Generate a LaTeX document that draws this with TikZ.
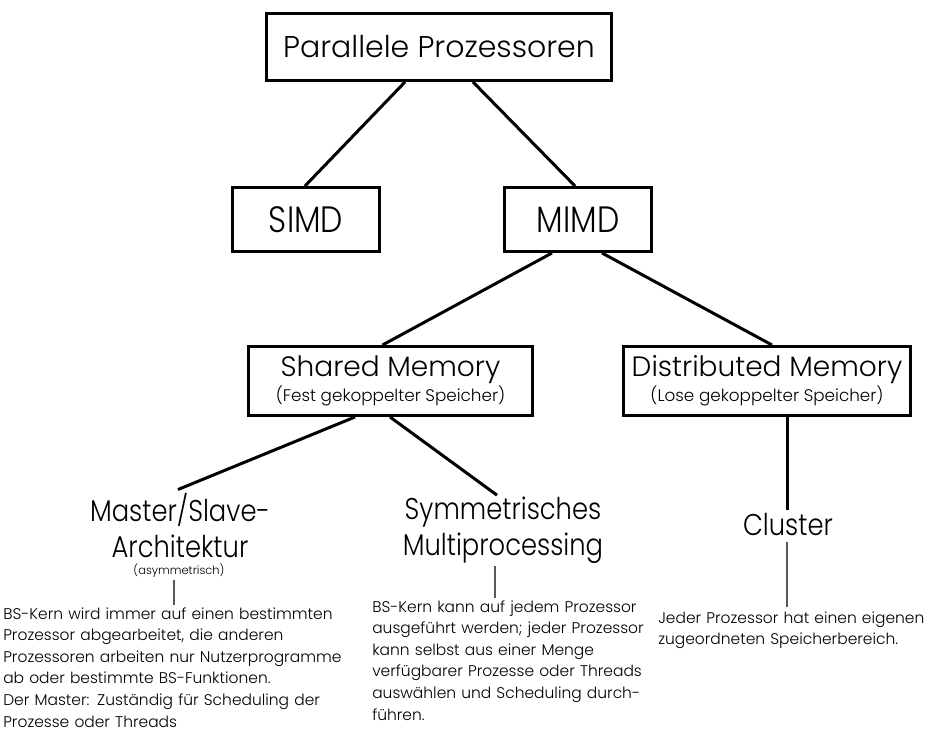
\documentclass[tikz,border=0pt]{standalone}
\usepackage{fontspec}
\setmainfont{Poppins Light}
\newfontfamily\fnarrow[FakeStretch=0.86]{Poppins Light}
\usetikzlibrary{calc}
\newcommand\fTitle{\fontsize{22.5}{27}\selectfont}
\newcommand\fSimd{\fnarrow\fontsize{27.5}{30}\selectfont}
\newcommand\fMem{\fontsize{21}{18.5}\selectfont}
\newcommand\fSub{\fontsize{12.6}{18.5}\selectfont}
\newcommand\fLbl{\fnarrow\fontsize{22.5}{27}\selectfont}
\newcommand\fNote{\fontsize{8.6}{10}\selectfont}
\newcommand\fDesc{\fontsize{11.6}{16.2}\selectfont}
\begin{document}
\begin{tikzpicture}[x=0.75pt,y=-0.75pt,
  box/.style={draw, line width=2.25pt, inner sep=0pt},
  conn/.style={line width=2.25pt},
  thinline/.style={line width=0.8pt, black!65},
  lbl/.style={inner sep=0pt, align=center, anchor=base},
  desc/.style={inner sep=0pt, anchor=base west, text width=400pt, align=left, font=\fDesc}]
\useasboundingbox (0,0) rectangle (932,734);
% boxes
\node[box, minimum width=258.75pt, minimum height=50.25pt, font=\fTitle] (top) at (439,47) {Parallele Prozessoren};
\node[box, minimum width=110.25pt, minimum height=48pt, font=\fSimd] (simd) at (306,219.5) {SIMD};
\node[box, minimum width=110.25pt, minimum height=48pt, font=\fSimd] (mimd) at (578,219.5) {MIMD};
\node[box, minimum width=213pt, minimum height=51.75pt, align=center, font=\fMem] (shared) at (390.5,381) {Shared Memory\\{\fSub (Fest gekoppelter Speicher)}};
\node[box, minimum width=215.25pt, minimum height=51.75pt, align=center, font=\fMem] (dist) at (767,381) {Distributed Memory\\{\fSub (Lose gekoppelter Speicher)}};
% labels (base anchor = last line)
\node[lbl, font=\fLbl] (ms) at (180,557) {Master/Slave-\\Architektur};
\node[lbl, font=\fNote] (msnote) at (179,574) {(asymmetrisch)};
\node[lbl, font=\fLbl] (sy) at (503,555) {Symmetrisches\\Multiprocessing};
\node[lbl, font=\fLbl] (cl) at (788,535) {Cluster};
% descriptions
\node[desc] (msd) at (3,619) {BS-Kern wird immer auf einen bestimmten\\Prozessor abgearbeitet, die anderen\\Prozessoren arbeiten nur Nutzerprogramme\\ab oder bestimmte BS-Funktionen.\\Der Master: Zuständig für Scheduling der\\Prozesse oder Threads};
\node[desc] (syd) at (372,612) {BS-Kern kann auf jedem Prozessor\\ausgeführt werden; jeder Prozessor\\kann selbst aus einer Menge\\verfügbarer Prozesse oder Threads\\auswählen und Scheduling durch-\\führen.};
\node[desc] (cld) at (658,623) {Jeder Prozessor hat einen eigenen\\zugeordneten Speicherbereich.};
% columns for thin lines
\coordinate (msx) at (174,0);
\coordinate (syx) at (495,0);
\coordinate (clx) at (787,0);
% connectors
\draw[conn] ($(top.south)+(-34,0)$) -- ($(simd.north)+(-1,0)$);
\draw[conn] ($(top.south)+(34,0)$) -- ($(mimd.north)+(-3,0)$);
\draw[conn] ($(mimd.south)+(-26,0)$) -- ($(shared.north)+(-8,0)$);
\draw[conn] ($(mimd.south)+(24,0)$) -- ($(dist.north)+(5,0)$);
\draw[conn] ($(shared.south)+(-35.5,0)$) -- ($(ms.north)+(-2,-3)$);
\draw[conn] ($(shared.south)+(-0.5,0)$) -- ($(sy.north)+(-6,-1)$);
\draw[conn] (dist.south -| clx) -- ($(cl.north -| clx)+(0,-3)$);
\draw[thinline] ($(msnote.south -| msx)+(0,3)$) -- ($(msd.north -| msx)+(0,-2)$);
\draw[thinline] ($(sy.south -| syx)+(0,3)$) -- ($(syd.north -| syx)+(0,-2)$);
\draw[thinline] ($(cl.south -| clx)+(0,6)$) -- ($(cld.north -| clx)+(0,-4)$);
\end{tikzpicture}
\end{document}
